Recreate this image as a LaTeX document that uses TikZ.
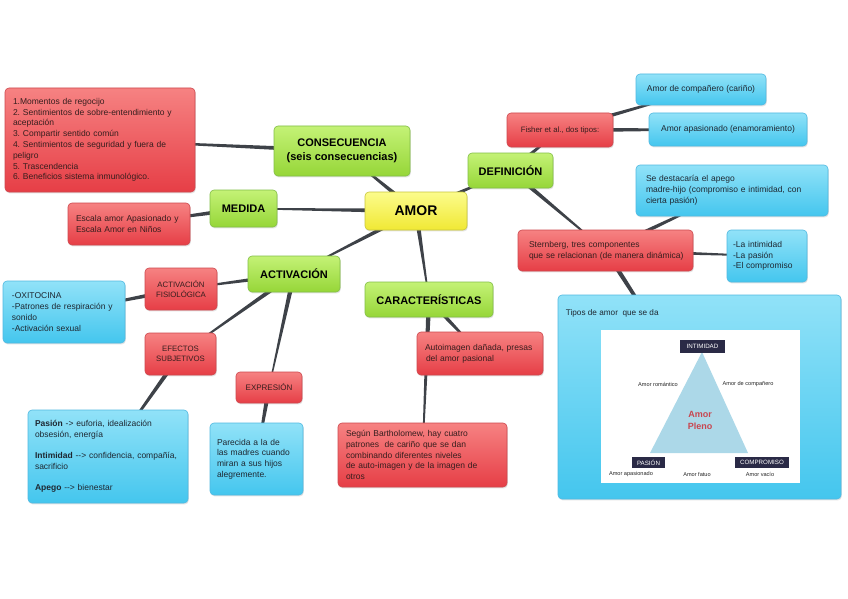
\documentclass[tikz,border=0pt]{standalone}
\usepackage{fontspec}
\setmainfont{Liberation Sans}
\usetikzlibrary{calc,shadows}
\pgfdeclarelayer{background}
\pgfsetlayers{background,main}
\frenchspacing
\definecolor{redT}{RGB}{246,130,130}
\definecolor{redB}{RGB}{230,62,70}
\definecolor{redD}{RGB}{205,72,78}
\definecolor{greenT}{RGB}{196,242,118}
\definecolor{greenB}{RGB}{150,214,56}
\definecolor{greenD}{RGB}{130,190,70}
\definecolor{yelT}{RGB}{252,252,140}
\definecolor{yelB}{RGB}{240,232,52}
\definecolor{yelD}{RGB}{200,198,60}
\definecolor{blueT}{RGB}{145,226,248}
\definecolor{blueB}{RGB}{68,198,238}
\definecolor{blueD}{RGB}{80,185,225}
\definecolor{txtR}{RGB}{55,30,30}
\definecolor{txtB}{RGB}{30,40,50}
\definecolor{connc}{RGB}{62,66,72}
\definecolor{triblue}{RGB}{172,216,232}
\definecolor{labdark}{RGB}{42,42,70}
\definecolor{plenored}{RGB}{200,70,80}
\newcommand\tapered[2]{\fill[connc] ($(#1.center)!2.4pt!90:(#2.center)$) -- ($(#2.center)!0.5pt!-90:(#1.center)$) -- ($(#2.center)!0.5pt!90:(#1.center)$) -- ($(#1.center)!2.4pt!-90:(#2.center)$) -- cycle;}
\tikzset{
  base/.style={rounded corners=4pt, draw, line width=0.6pt,
    drop shadow={opacity=0.22,shadow xshift=0.8pt,shadow yshift=-1.4pt},
    inner ysep=2pt, font=\fontsize{8.5}{10.8}\selectfont},
  redbox/.style={base, top color=redT, bottom color=redB, draw=redD, text=txtR},
  bluebox/.style={base, top color=blueT, bottom color=blueB, draw=blueD, text=txtB},
  greenbox/.style={base, top color=greenT, bottom color=greenB, draw=greenD, text=black,
    align=center, font=\bfseries\fontsize{11}{14}\selectfont},
  yellowbox/.style={base, top color=yelT, bottom color=yelB, draw=yelD, text=black,
    font=\bfseries\fontsize{14}{16}\selectfont},
  darklab/.style={fill=labdark, text=white, inner sep=0pt, font=\fontsize{6.2}{7}\selectfont},
  trilab/.style={text=black!85, inner sep=0pt, font=\fontsize{5.6}{6}\selectfont},
}
\begin{document}
\begin{tikzpicture}[x=1pt,y=-1pt]
\useasboundingbox (0,0) rectangle (848,599);
% main nodes
\node[yellowbox, minimum width=102pt, minimum height=38pt] (amor) at (416,211) {AMOR};
\node[greenbox, minimum width=136pt, minimum height=50pt] (cons) at (342,151) {CONSECUENCIA\\(seis consecuencias)};
\node[greenbox, minimum width=67pt, minimum height=37pt] (med) at (243.5,208.5) {MEDIDA};
\node[greenbox, minimum width=85pt, minimum height=35pt] (def) at (510.5,170.5) {DEFINICIÓN};
\node[greenbox, minimum width=92pt, minimum height=36pt] (act) at (294,274) {ACTIVACIÓN};
\node[greenbox, minimum width=128pt, minimum height=35pt] (car) at (429,299.5) {CARACTERÍSTICAS};
% red nodes
\node[redbox, text width=174pt, inner xsep=8pt, minimum height=104pt, align=left] (tl) at (100,140)
  {1.Momentos de regocijo\\2. Sentimientos de sobre-entendimiento y\\aceptación\\3. Compartir sentido común\\4. Sentimientos de seguridad y fuera de\\peligro\\5. Trascendencia\\6. Beneficios sistema inmunológico.};
\node[redbox, text width=106pt, inner xsep=8pt, minimum height=42pt, align=left] (esc) at (129,224)
  {Escala amor Apasionado y\\Escala Amor en Niños};
\node[redbox, minimum width=72pt, minimum height=42pt, align=center, font=\fontsize{7.8}{10.5}\selectfont] (fis) at (181,289)
  {ACTIVACIÓN\\FISIOLÓGICA};
\node[redbox, minimum width=71pt, minimum height=42pt, align=center, font=\fontsize{7.8}{10.5}\selectfont] (efe) at (180.5,354)
  {EFECTOS\\SUBJETIVOS};
\node[redbox, minimum width=66pt, minimum height=31pt, align=center, font=\fontsize{8}{10}\selectfont] (expr) at (269,387.5)
  {EXPRESIÓN};
\node[redbox, text width=110pt, inner xsep=8pt, minimum height=43pt, align=left] (auto) at (480,353.5)
  {Autoimagen dañada, presas\\\hspace*{1pt}del amor pasional};
\node[redbox, text width=153pt, inner xsep=8pt, minimum height=64pt, align=left] (seg) at (422.5,455)
  {Según Bartholomew, hay cuatro\\patrones\ \ de cariño que se dan\\combinando diferentes niveles\\de auto-imagen y de la imagen de\\otros};
\node[redbox, minimum width=106pt, minimum height=34pt, font=\fontsize{7.8}{10}\selectfont] (fish) at (560,130)
  {Fisher et al., dos tipos:};
\node[redbox, text width=165pt, inner xsep=5pt, minimum height=41pt, align=left] (stern) at (605.5,250.5)
  {\hspace*{6pt}Sternberg, tres componentes\\\hspace*{6pt}que se relacionan (de manera dinámica)};
% blue nodes
\node[bluebox, text width=104pt, inner xsep=9pt, minimum height=62pt, align=left] (oxi) at (64,312)
  {-OXITOCINA\\-Patrones de respiración y\\sonido\\-Activación sexual};
\node[bluebox, text width=146pt, inner xsep=7pt, minimum height=93pt, align=left] (pas) at (108,456.5)
  {\textbf{Pasión} -> euforia, idealización\\obsesión, energía\\[10.5pt]\textbf{Intimidad} -{}-{}> confidencia, compañía,\\sacrificio\\[10.5pt]\textbf{Apego} -{}-{}> bienestar};
\node[bluebox, text width=79pt, inner xsep=7pt, minimum height=72pt, align=left] (par) at (256.5,459)
  {Parecida a la de\\las madres cuando\\miran a sus hijos\\alegremente.};
\node[bluebox, minimum width=130pt, minimum height=31pt] (comp) at (701,89.5)
  {Amor de compañero (cariño)};
\node[bluebox, minimum width=158pt, minimum height=33pt] (apas) at (728,129.5)
  {Amor apasionado (enamoramiento)};
\node[bluebox, text width=172pt, inner xsep=10pt, minimum height=51pt, align=left] (sed) at (732,190.5)
  {Se destacaría el apego\\madre-hijo (compromiso e intimidad, con\\cierta pasión)};
\node[bluebox, text width=68pt, inner xsep=6pt, minimum height=52pt, align=left] (int) at (767,256)
  {-La intimidad\\-La pasión\\-El compromiso};
\node[bluebox, minimum width=283pt, minimum height=204pt] (tipos) at (699.5,397) {};
\node[anchor=west, inner sep=0pt, text=txtB, font=\fontsize{8.2}{10}\selectfont] (tiptxt) at ($(tipos.north west)+(8,19)$) {Tipos de amor\ \ que se da};
% triangle figure
\node[fill=white, minimum width=199pt, minimum height=153pt, inner sep=0pt] (img) at (700.5,406.5) {};
\fill[triblue] (702,352) -- (650,453) -- (748,453) -- cycle;
\node[darklab, minimum width=45pt, minimum height=13pt] (lint) at (702.5,346.5) {INTIMIDAD};
\node[darklab, minimum width=33pt, minimum height=11pt] (lpas) at (648.5,462.5) {PASIÓN};
\node[darklab, minimum width=54pt, minimum height=11pt] (lcom) at (762,462.5) {COMPROMISO};
\node[trilab] (trom) at (658,384) {Amor romántico};
\node[trilab] (tcomp) at (748,384) {Amor de compañero};
\node[trilab] (tapas) at (631,474) {Amor apasionado};
\node[trilab] (tfat) at (697,474) {Amor fatuo};
\node[trilab] (tvac) at (760,474) {Amor vacío};
\node[text=plenored, align=center, inner sep=0pt, font=\bfseries\fontsize{9}{12}\selectfont] (pleno) at (700,420) {Amor\\Pleno};
% connectors
\begin{pgfonlayer}{background}
\fill[white] (0,0) rectangle (848,599);
\tapered{amor}{cons}
\tapered{amor}{med}
\tapered{amor}{def}
\tapered{amor}{act}
\tapered{amor}{car}
\tapered{cons}{tl}
\tapered{med}{esc}
\tapered{def}{fish}
\tapered{def}{stern}
\tapered{fish}{comp}
\tapered{fish}{apas}
\tapered{stern}{sed}
\tapered{stern}{int}
\tapered{stern}{tipos}
\tapered{act}{fis}
\tapered{act}{efe}
\tapered{act}{expr}
\tapered{fis}{oxi}
\tapered{efe}{pas}
\tapered{expr}{par}
\tapered{car}{auto}
\tapered{car}{seg}
\end{pgfonlayer}
\end{tikzpicture}
\end{document}
